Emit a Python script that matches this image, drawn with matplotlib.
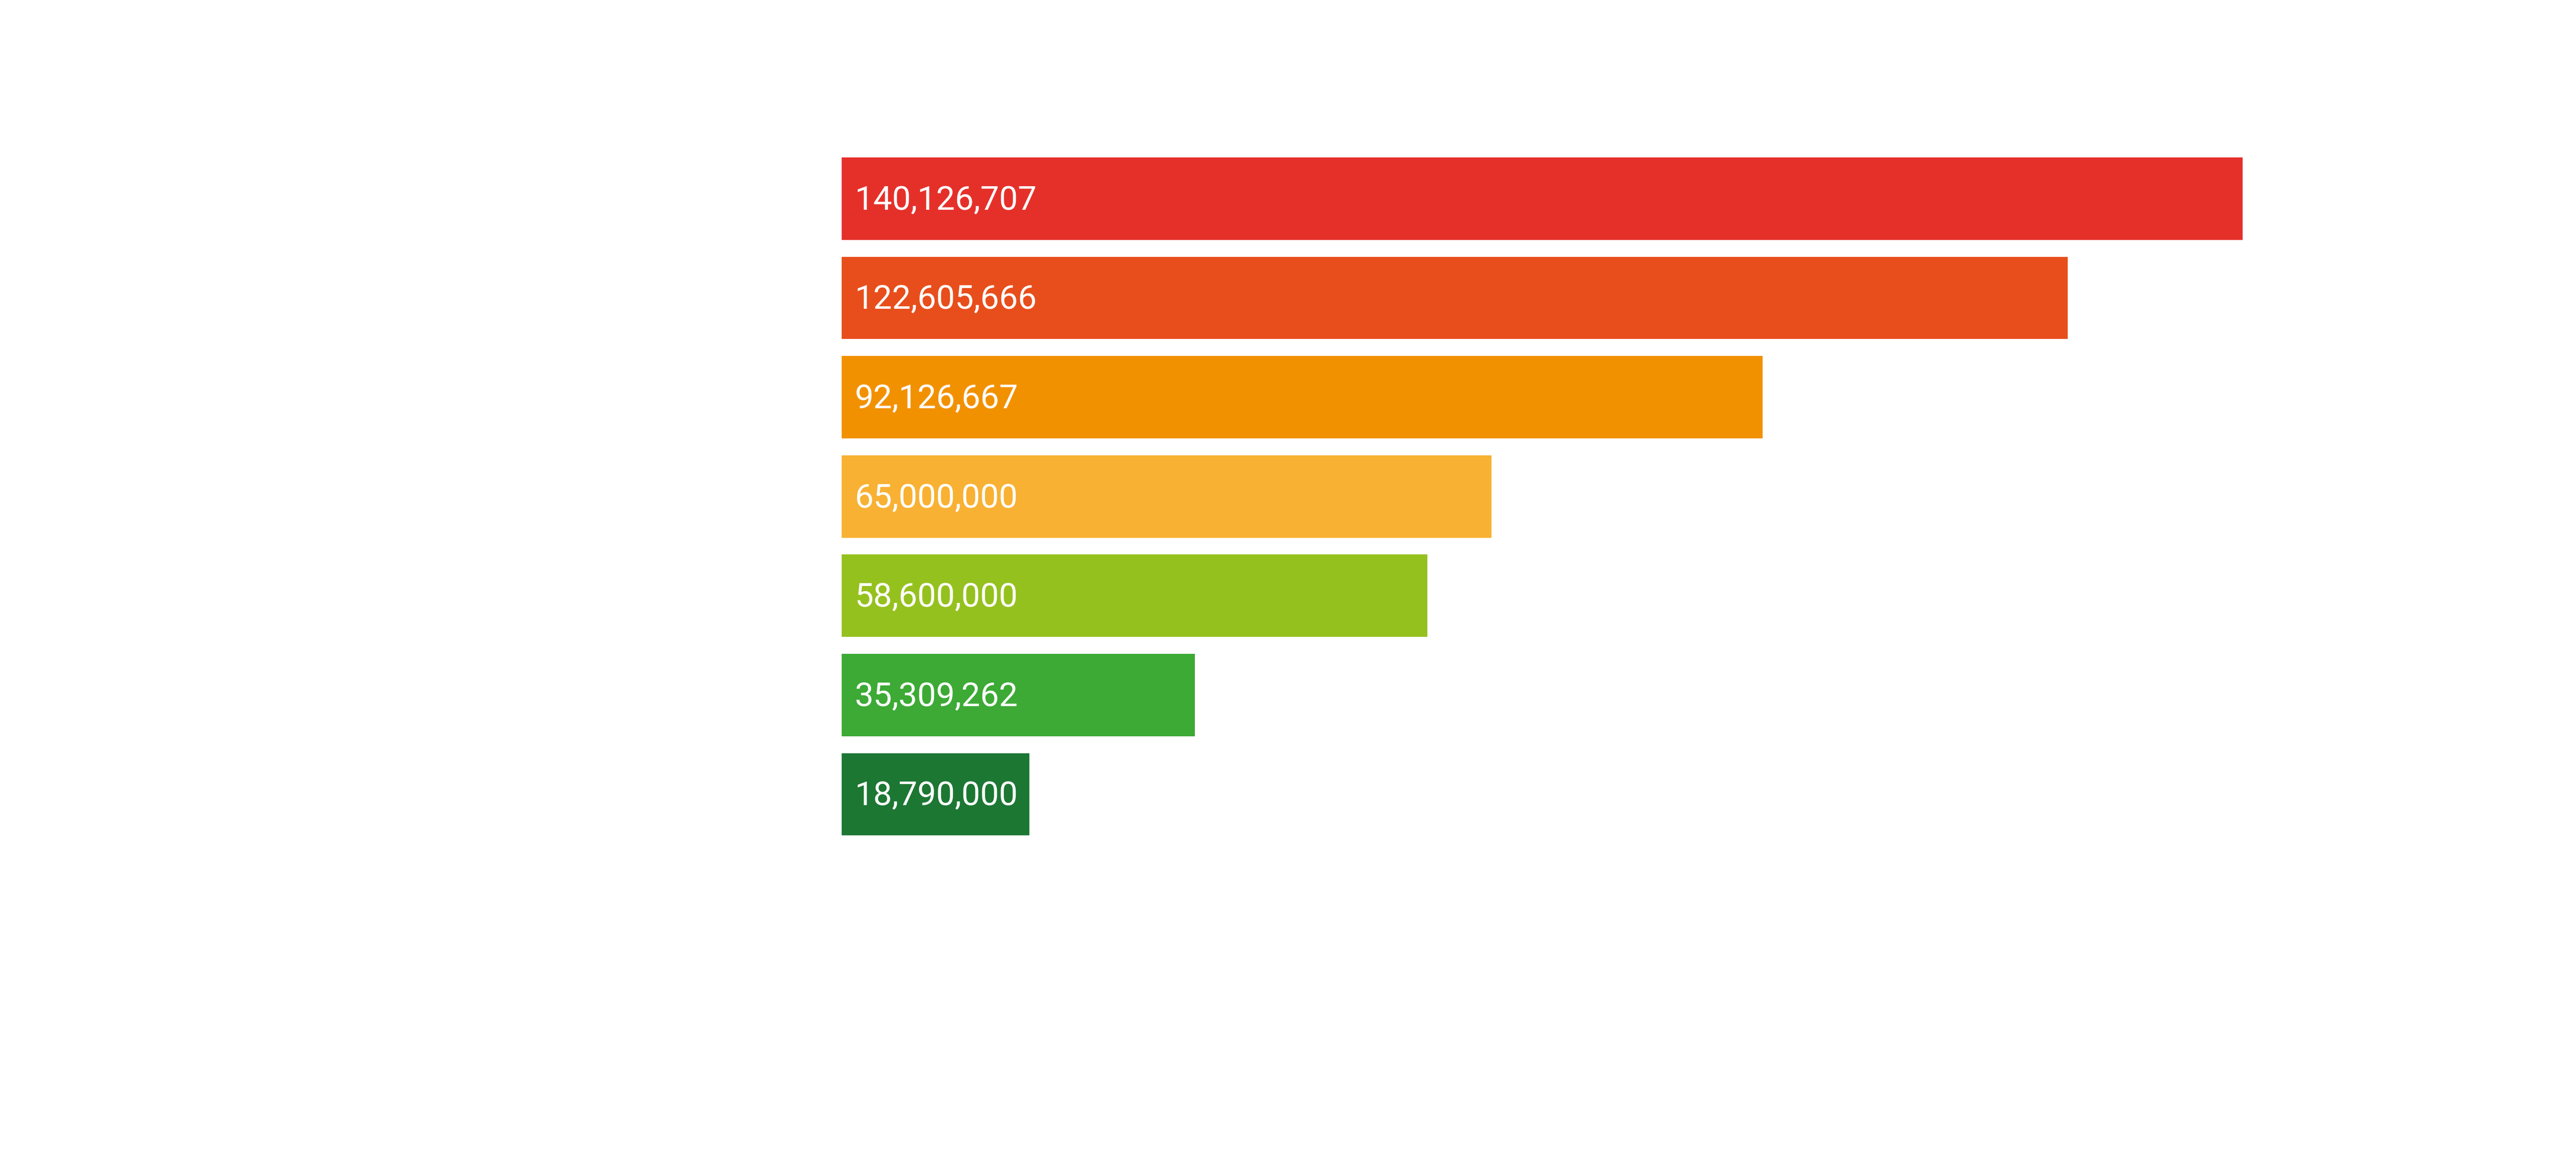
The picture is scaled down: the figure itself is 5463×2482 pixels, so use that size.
import matplotlib
matplotlib.use("Agg")
import matplotlib.pyplot as plt
import numpy as np

# Data
ranks = [1, 2, 3, 4, 5, 6, 7]
values = [140126707, 122605666, 92126667, 65000000, 58600000, 35309262, 18790000]
colors = ["#E5302A", "#E84E1B", "#F29100", "#F8B133", "#95C11F", "#3CAA35", "#1C7733"]
labels = [f"{v:,}" for v in values]

W, H = 5463, 2482
fig = plt.figure(figsize=(W / 100, H / 100), dpi=100)
fig.patch.set_facecolor("white")

left_px, right_px = 1785, 4756
top_px, bot_px = 316.2, 1790.3
ax = fig.add_axes([left_px / W, 1 - bot_px / H, (right_px - left_px) / W, (bot_px - top_px) / H])

y = np.arange(len(values))
ax.barh(y, values, height=0.83, color=colors, edgecolor="none")
ax.set_xlim(0, max(values))
ax.set_ylim(len(values) - 0.5, -0.5)

for yi, lab in zip(y, labels):
    ax.text(max(values) * 0.0092, yi + 0.02, lab, color="white", va="center", ha="left",
            fontsize=51, family=["Roboto", "DejaVu Sans"])

ax.axis("off")
fig.savefig("out.png", dpi=100, facecolor="white")
